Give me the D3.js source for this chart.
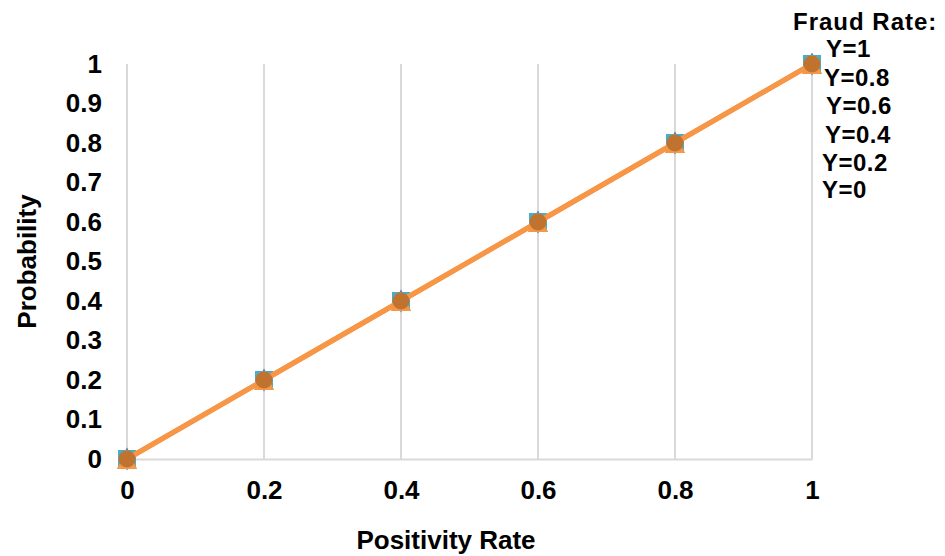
<!DOCTYPE html>
<html>
<head>
<meta charset="utf-8">
<style>
body { margin: 0; background: #fff; }
text { font-family: "Liberation Sans", Arial, sans-serif; font-weight: bold; fill: #000; }
</style>
</head>
<body>
<svg id="chart"></svg>
<script src="https://d3js.org/d3.v7.min.js"></script>
<script>
// chart size
var width = 945;
var height = 556;
var margin = { top: 64, right: 133, bottom: 97, left: 127 };

// data
var positivity = [0, 0.2, 0.4, 0.6, 0.8, 1];
var seriesNames = ['Y=1', 'Y=0.8', 'Y=0.6', 'Y=0.4', 'Y=0.2', 'Y=0'];
var probY1   = [0, 0.2, 0.4, 0.6, 0.8, 1];
var probY08  = [0, 0.2, 0.4, 0.6, 0.8, 1];
var probY06  = [0, 0.2, 0.4, 0.6, 0.8, 1];
var probY04  = [0, 0.2, 0.4, 0.6, 0.8, 1];
var probY02  = [0, 0.2, 0.4, 0.6, 0.8, 1];
var probY0   = [0, 0.2, 0.4, 0.6, 0.8, 1];
var yTicks = [0, 0.1, 0.2, 0.3, 0.4, 0.5, 0.6, 0.7, 0.8, 0.9, 1];
var xTicks = [0, 0.2, 0.4, 0.6, 0.8, 1];

// drawing order: first drawn is at the bottom
var seriesValues = [probY1, probY08, probY06, probY04, probY02, probY0];
var seriesColor = ['#4f81bd', '#c0504d', '#9bbb59', '#4bacc6', '#f79646', '#c0722f'];
var lineColor   = ['#4f81bd', '#c0504d', '#9bbb59', '#4bacc6', '#f79646', '#f79646'];
var seriesShape = ['diamond', 'square', 'triangle', 'square', 'triangle', 'circle'];

var svg = d3.select('#chart')
  .attr('width', width)
  .attr('height', height);

var xScale = d3.scaleLinear()
  .domain([0, 1])
  .range([margin.left, width - margin.right]);

var yScale = d3.scaleLinear()
  .domain([0, 1])
  .range([height - margin.bottom, margin.top]);

// vertical gridlines
svg.append('g')
  .selectAll('line')
  .data(xTicks)
  .enter()
  .append('line')
  .attr('x1', function(d){ return xScale(d); })
  .attr('x2', function(d){ return xScale(d); })
  .attr('y1', yScale(1))
  .attr('y2', yScale(0))
  .attr('stroke', '#d9d9d9')
  .attr('stroke-width', 2);

// x axis
var xAxis = d3.axisBottom(xScale)
  .tickValues(xTicks)
  .tickSize(0)
  .tickPadding(22)
  .tickFormat(d3.format('~g'));

var gx = svg.append('g')
  .attr('transform', 'translate(0,' + yScale(0) + ')')
  .call(xAxis);
gx.select('.domain').attr('stroke', '#d9d9d9').attr('stroke-width', 2);
gx.selectAll('text').style('font-size', '26px');

// y axis
var yAxis = d3.axisLeft(yScale)
  .tickValues(yTicks)
  .tickSize(0)
  .tickPadding(25)
  .tickFormat(d3.format('~g'));

var gy = svg.append('g')
  .attr('transform', 'translate(' + margin.left + ',0)')
  .call(yAxis);
gy.select('.domain').remove();
gy.selectAll('text').style('font-size', '26px');

// axis titles
svg.append('text')
  .attr('x', 446)
  .attr('y', 549)
  .attr('text-anchor', 'middle')
  .style('font-size', '26px')
  .text('Positivity Rate');

svg.append('text')
  .attr('transform', 'translate(36,' + ((yScale(0) + yScale(1)) / 2) + ') rotate(-90)')
  .attr('text-anchor', 'middle')
  .style('font-size', '26px')
  .text('Probability');

// layers: square markers, then lines, then other markers
var linePath = d3.line()
  .x(function(d){ return xScale(d[0]); })
  .y(function(d){ return yScale(d[1]); });

function toPoints(vals) {
  return positivity.map(function(x, j){ return [x, vals[j]]; });
}

var squareLayer = svg.append('g');
var lineLayer = svg.append('g');
var markerLayer = svg.append('g');

function drawMarker(g, pts, shape, color) {
  var sel = g.selectAll('.marker').data(pts).enter();
  if (shape === 'square') {
    sel.append('rect')
      .attr('x', function(d){ return xScale(d[0]) - 9; })
      .attr('y', function(d){ return yScale(d[1]) - 9; })
      .attr('width', 18).attr('height', 18)
      .attr('fill', color);
  } else if (shape === 'triangle') {
    sel.append('path')
      .attr('d', function(d){
        var x = xScale(d[0]), y = yScale(d[1]);
        return 'M' + x + ',' + (y - 9) + 'L' + (x + 10) + ',' + (y + 10) + 'L' + (x - 10) + ',' + (y + 10) + 'Z';
      })
      .attr('fill', color);
  } else if (shape === 'circle') {
    sel.append('circle')
      .attr('cx', function(d){ return xScale(d[0]); })
      .attr('cy', function(d){ return yScale(d[1]); })
      .attr('r', 8.5)
      .attr('fill', color);
  } else {
    sel.append('path')
      .attr('d', d3.symbol().type(d3.symbolDiamond).size(150))
      .attr('transform', function(d){ return 'translate(' + xScale(d[0]) + ',' + yScale(d[1]) + ')'; })
      .attr('fill', color);
  }
}

seriesValues.forEach(function(vals, i) {
  var pts = toPoints(vals);
  lineLayer.append('path')
    .attr('d', linePath(pts))
    .attr('fill', 'none')
    .attr('stroke', lineColor[i])
    .attr('stroke-width', i >= 4 ? 5 : 3);
  var layer = (seriesShape[i] === 'square' || seriesShape[i] === 'diamond') ? squareLayer : markerLayer;
  drawMarker(layer.append('g'), pts, seriesShape[i], seriesColor[i]);
});

// legend (text only)
var legendX = [826, 824, 826, 825, 822, 822];
var legendY = [48, 77, 105, 134, 162, 189];
svg.append('text')
  .attr('x', 793)
  .attr('y', 30)
  .style('font-size', '24px')
  .style('letter-spacing', '1px')
  .text('Fraud Rate:');

svg.append('g')
  .selectAll('text')
  .data(seriesNames)
  .enter()
  .append('text')
  .attr('x', function(d, i){ return legendX[i]; })
  .attr('y', function(d, i){ return legendY[i] + 9; })
  .style('font-size', '24px')
  .style('letter-spacing', '0.5px')
  .text(function(d){ return d; });
</script>
</body>
</html>
